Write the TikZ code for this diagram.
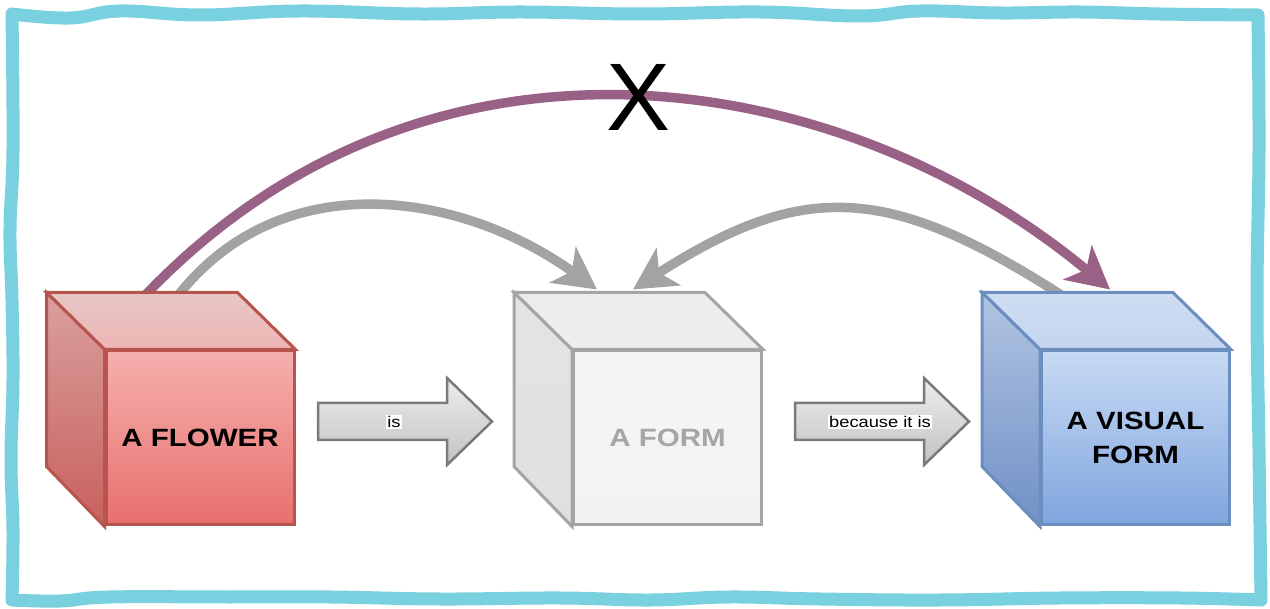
\documentclass[tikz,border=0pt]{standalone}
\usepackage{fontspec}
\setmainfont{Liberation Sans}
\newfontfamily\widefont[FakeStretch=1.18]{Liberation Sans}
\usepackage{xcolor}
\usetikzlibrary{calc,positioning,arrows.meta,backgrounds}

\definecolor{frameBlue}{HTML}{79D0DF}
\definecolor{arcPurple}{HTML}{996185}
\definecolor{arcGray}{HTML}{A3A3A3}
\definecolor{flowerLine}{HTML}{B85450}
\definecolor{flowerFrontA}{HTML}{F5B0AE}
\definecolor{flowerFrontB}{HTML}{E8706D}
\definecolor{flowerTopA}{HTML}{E6C6C5}
\definecolor{flowerTopB}{HTML}{EEB6B4}
\definecolor{flowerSideA}{HTML}{D9A09E}
\definecolor{flowerSideB}{HTML}{C9605D}
\definecolor{formLine}{HTML}{A5A5A5}
\definecolor{formFrontA}{HTML}{F5F5F5}
\definecolor{formFrontB}{HTML}{F2F2F2}
\definecolor{formTopA}{HTML}{ECECEC}
\definecolor{formTopB}{HTML}{EEEEEE}
\definecolor{formSideA}{HTML}{E4E4E4}
\definecolor{formSideB}{HTML}{E0E0E0}
\definecolor{visualLine}{HTML}{6C8EBF}
\definecolor{visualFrontA}{HTML}{C8DAF4}
\definecolor{visualFrontB}{HTML}{7FA5DE}
\definecolor{visualTopA}{HTML}{CFDDF2}
\definecolor{visualTopB}{HTML}{C3D5EF}
\definecolor{visualSideA}{HTML}{B1C4E2}
\definecolor{visualSideB}{HTML}{7090C6}

\begin{document}
\begin{tikzpicture}[x=1pt,y=-1pt,
    cube/.style={draw, line width=3pt, minimum width=188pt, minimum height=174pt,
      inner sep=0pt, align=center, font={\widefont\bfseries\fontsize{25}{34}\selectfont}},
    arc/.style={line width=9.5pt, -{Stealth[length=42pt,width=44pt,inset=11pt]}},
    blockarrow/.style={draw=black!52, line width=2.5pt, line join=miter,
      top color=black!7, bottom color=black!24},
    lbl/.style={fill=white, inner sep=1pt, font={\widefont\fontsize{15.5}{15.5}\selectfont}}]
  \useasboundingbox (0,0) rectangle (1270,609);

  % wavy frame
  \draw[frameBlue, line width=13pt, line join=round, line cap=round]
    plot[smooth, tension=0.7] coordinates {(12,14) (70,18) (120,11) (200,15) (300,11) (420,14) (520,12) (640,14) (760,12) (860,16) (920,11) (1000,13) (1080,12) (1160,14) (1258,15)}
    -- plot[smooth, tension=0.7] coordinates {(1258,15) (1259,150) (1257,300) (1259,450) (1261,600)}
    -- plot[smooth, tension=0.7] coordinates {(1261,600) (1180,598) (1060,598) (940,600) (820,599) (730,597) (650,600) (560,598) (440,599) (330,597) (230,597) (110,597) (60,601) (12,600)}
    -- plot[smooth, tension=0.7] coordinates {(12,600) (13,530) (11,460) (13,380) (12,300) (10,230) (13,150) (12,14)};

  \node[cube, draw=flowerLine, top color=flowerFrontA, bottom color=flowerFrontB] (flower) at (200,438) {A FLOWER};
  \node[cube, draw=formLine, top color=formFrontA, bottom color=formFrontB, text=black!35] (form) at (667.5,438) {A FORM};
  \node[cube, draw=visualLine, top color=visualFrontA, bottom color=visualFrontB] (visual) at (1135.5,438) {A VISUAL\\FORM};

  \foreach \n in {flower,form,visual} {
    \path[draw=\n Line, line width=3pt, top color=\n TopA, bottom color=\n TopB]
      (\n.north west) -- (\n.north east) -- ++(-58,-57) -- ($(\n.north west)+(-58,-57)$) -- cycle;
    \path[draw=\n Line, line width=3pt, top color=\n SideA, bottom color=\n SideB]
      (\n.north west) -- ++(-58,-57) -- ++(0,174) -- (\n.south west) -- cycle;
  }

  \foreach \xa/\xl/\nm/\txt in {318/394/isLbl/is, 795/880/becauseLbl/because it is} {
    \path[blockarrow] (\xa,403) -- ++(129,0) -- ++(0,-25) -- ++(45,43.5) -- ++(-45,43.5)
      -- ++(0,-25) -- ++(-129,0) -- cycle;
    \node[lbl] (\nm) at (\xl,422) {\txt};
  }

  \begin{scope}[on background layer]
    \draw[arc, arcGray] ($(flower.north)+(-22,-54)$) .. controls +(105,-133) and +(-134,-97) .. ($(form.north)+(-70.5,-60)$);
    \draw[arc, arcGray] ($(visual.north)+(-73.5,-54)$) .. controls +(-173,-111) and +(171,-110) .. ($(form.north)+(-34.5,-60)$);
    \draw[arc, arcPurple] ($(flower.north)+(-55,-54)$) .. controls +(280,-294) and +(-273,-227) .. ($(visual.north)+(-25.5,-60)$);
  \end{scope}

  \node[font=\fontsize{96}{96}\selectfont, inner sep=0pt] (notX) at (639,97.5) {X};
\end{tikzpicture}
\end{document}
